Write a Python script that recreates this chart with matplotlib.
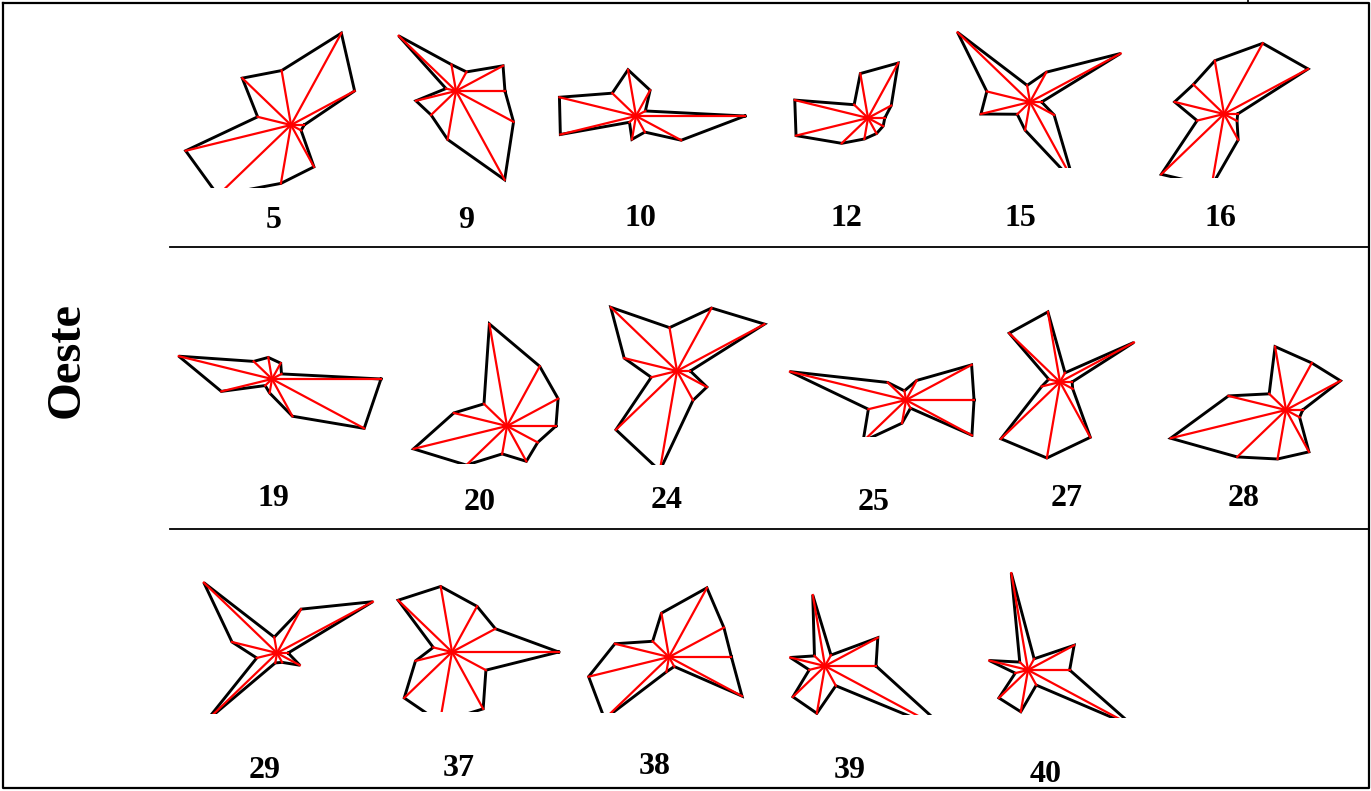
import matplotlib
matplotlib.use('Agg')
import numpy as np
import matplotlib.pyplot as plt

# station ids, one star glyph per station, 11 variables each
stations = [5, 9, 10, 12, 15, 16, 19, 20, 24, 25, 27, 28, 29, 37, 38, 39, 40]

# ray lengths, variable 1 points east, then counter-clockwise
r05 = [0.11, 0.63, 1.01, 0.55, 0.62, 0.29, 0.915, 0.93, 0.59, 0.46, 0.10]
r09 = [0.408, 0.466, 0.21, 0.267, 0.73, 0.087, 0.348, 0.317, 0.49, 0.976, 0.57]
r10 = [0.908, 0.093, 0.283, 0.467, 0.302, 0.665, 0.657, 0.083, 0.236, 0.177, 0.448]
r12 = [0.14, 0.23, 0.604, 0.449, 0.176, 0.636, 0.625, 0.335, 0.212, 0.171, 0.15]
r15 = [0.097, 0.898, 0.328, 0.168, 0.922, 0.375, 0.426, 0.162, 0.285, 0.878, 0.239]
r16 = [0.114, 0.833, 0.777, 0.538, 0.39, 0.429, 0.234, 0.798, 0.728, 0.284, 0.129]
r19 = [0.908, 0.094, 0.174, 0.218, 0.233, 0.81, 0.44, 0.087, 0.141, 0.409, 0.913]
r20 = [0.408, 0.506, 0.656, 1.031, 0.293, 0.462, 0.812, 0.517, 0.282, 0.388, 0.304]
r24 = [0.111, 0.867, 0.692, 0.438, 0.843, 0.459, 0.224, 0.777, 1.007, 0.322, 0.296]
r25 = [0.567, 0.65, 0.215, 0.093, 0.232, 1.008, 0.327, 0.546, 0.234, 0.09, 0.653]
r27 = [0.101, 0.732, 0.101, 0.708, 0.646, 0.098, 0.159, 0.751, 0.768, 0.608, 0.126]
r28 = [0.139, 0.54, 0.517, 0.64, 0.214, 0.50, 1.002, 0.621, 0.495, 0.46, 0.135]
r29 = [0.093, 0.949, 0.482, 0.16, 0.931, 0.391, 0.176, 0.903, 0.10, 0.103, 0.226]
r37 = [0.889, 0.43, 0.502, 0.662, 0.685, 0.163, 0.317, 0.608, 0.71, 0.625, 0.336]
r38 = [0.52, 0.544, 0.76, 0.443, 0.208, 0.47, 0.698, 0.82, 0.15, 0.105, 0.723]
r39 = [0.425, 0.523, 0.12, 0.717, 0.134, 0.302, 0.137, 0.408, 0.478, 0.217, 1.232]
r40 = [0.347, 0.457, 0.123, 0.979, 0.105, 0.337, 0.111, 0.37, 0.422, 0.166, 1.053]
radii = [r05, r09, r10, r12, r15, r16, r19, r20, r24, r25, r27, r28, r29, r37, r38, r39, r40]

region = 'Oeste'

# layout (pixels of a 1371x791 canvas): glyph centre, bottom crop, label centre
W, H = 1371, 791
centres = [(291, 125), (456, 91), (636, 116), (868, 118), (1030, 102), (1224, 114),
           (272, 379), (507, 426), (677, 371), (906, 400), (1060, 382), (1286, 410),
           (277, 653), (452, 652), (669, 657), (825, 666), (1028, 670)]
crops = [188, None, None, None, 168, 178,
         None, 464, 465, 437, None, None,
         714, 712, 713, 715, 718]
label_pos = [(274, 221), (466, 220), (640, 219), (846, 218), (1020, 219), (1220, 219),
             (273, 498), (480, 502), (667, 501), (874, 502), (1067, 498), (1244, 498),
             (265, 771), (459, 769), (655, 767), (850, 771), (1046, 775)]
scale = 100.0   # px per unit radius
stretch = 1.2   # glyphs are drawn wider than tall

fig = plt.figure(figsize=(13.71, 7.91), dpi=100)

# background: frame, row dividers, labels
bg = fig.add_axes([0, 0, 1, 1])
bg.set_xlim(0, W)
bg.set_ylim(H, 0)
bg.axis('off')
bg.plot([3, 1369, 1369, 3, 3], [3, 3, 788, 788, 3], color='black', lw=1.6)
bg.plot([1248, 1248], [0, 3], color='black', lw=1.2)
for yline in [247, 529]:
    bg.plot([170, 1369], [yline, yline], color='black', lw=1.3)
bg.text(67, 360, region, rotation=90, ha='center', va='center',
        fontsize=35, fontweight='bold', family='Liberation Serif')
for sid, (lx, ly) in zip(stations, label_pos):
    bg.text(lx, ly, str(sid), ha='center', va='center',
            fontsize=23, fontweight='bold', family='Liberation Serif')

angles = np.arange(11) * 2 * np.pi / 11
half_w, half_h = 200, 150

for r, (cx, cy), crop in zip(radii, centres, crops):
    bottom = crop if crop is not None else cy + half_h
    top = cy - half_h
    ax = fig.add_axes([(cx - half_w) / W, 1 - bottom / H,
                       2 * half_w / W, (bottom - top) / H])
    ax.set_xlim(-half_w, half_w)
    ax.set_ylim(-(bottom - cy), cy - top)
    ax.axis('off')
    ax.patch.set_alpha(0)
    rr = np.array(r) * scale
    xs = stretch * rr * np.cos(angles)
    ys = rr * np.sin(angles)
    ax.plot(np.append(xs, xs[0]), np.append(ys, ys[0]), color='black',
            lw=2.1, solid_joinstyle='miter')
    for x, y in zip(xs, ys):
        ax.plot([0, x], [0, y], color='red', lw=1.6)

plt.savefig('out.png', dpi=100)
